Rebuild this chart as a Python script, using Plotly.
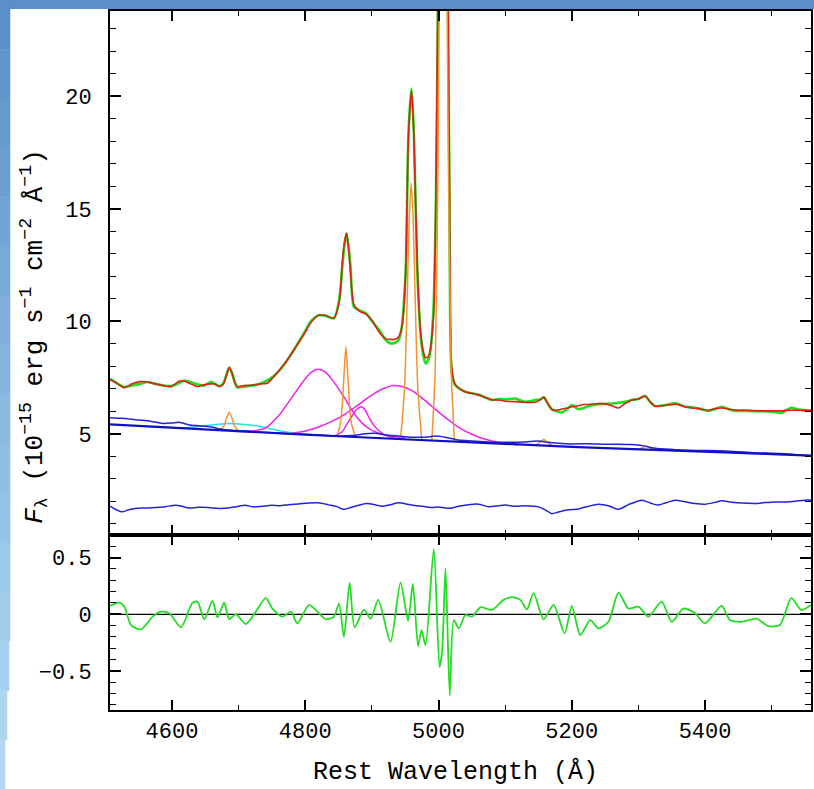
import plotly.graph_objects as go

# ---------------- data ----------------
wl_spec = [4507, 4515, 4528, 4540, 4552, 4563, 4575, 4587, 4599, 4610, 4618, 4628, 4638, 4648, 4659, 4665,
           4671, 4677, 4682, 4686, 4690, 4694, 4698, 4708, 4720, 4733, 4743, 4753, 4768, 4783, 4798, 4808,
           4815, 4821, 4830, 4843, 4851, 4856, 4859, 4862, 4865, 4868, 4873, 4881, 4891, 4901, 4911, 4921,
           4928, 4935, 4940, 4945, 4948, 4951, 4955, 4959.5, 4963, 4968, 4973, 4977, 4980.5, 4985, 4988,
           4991, 4993, 4996, 4999, 5003, 5007, 5011, 5014, 5016.5, 5020, 5025, 5032, 5040, 5050, 5060, 5070,
           5080, 5090, 5100, 5115, 5130, 5145, 5152, 5158, 5164, 5170, 5178, 5185, 5193, 5200, 5210, 5218,
           5225, 5240, 5250, 5260, 5270, 5280, 5290, 5300, 5310, 5318, 5325, 5340, 5357, 5370, 5380, 5390,
           5405, 5415, 5425, 5440, 5450, 5460, 5480, 5500, 5515, 5522, 5530, 5540, 5550, 5559]

flux_obs = [7.45, 7.30, 7.09, 7.15, 7.22, 7.30, 7.22, 7.15, 7.12, 7.25, 7.36, 7.30, 7.20, 7.14, 7.31, 7.20,
            7.12, 7.25, 7.65, 7.95, 7.70, 7.30, 7.07, 7.09, 7.15, 7.24, 7.38, 7.57, 8.06, 8.72, 9.47, 9.98,
            10.18, 10.28, 10.25, 10.13, 10.95, 12.58, 13.40, 13.92, 13.30, 12.43, 10.65, 10.50, 10.36, 9.98, 9.61, 9.17,
            9.02, 9.05, 9.17, 9.76, 10.80, 12.43, 18.40, 20.35, 18.40, 12.40, 9.47, 8.50, 8.13, 8.30, 8.72,
            9.80, 10.95, 15.0, 23.5, 38.0, 45.0, 38.0, 25.0, 15.4, 7.69, 7.17, 7.00, 6.87, 6.80, 6.75, 6.62,
            6.50, 6.55, 6.53, 6.57, 6.42, 6.50, 6.52, 6.62, 6.35, 6.09, 6.00, 5.95, 6.10, 6.28, 6.09, 6.15,
            6.23, 6.32, 6.33, 6.35, 6.38, 6.42, 6.50, 6.55, 6.68, 6.40, 6.23, 6.28, 6.35, 6.20, 6.18, 6.13,
            6.02, 6.10, 6.20, 6.05, 6.02, 6.02, 6.01, 5.98, 5.93, 6.05, 6.16, 6.08, 6.05, 6.03]

flux_model = [7.40, 7.28, 7.05, 7.22, 7.32, 7.30, 7.22, 7.14, 7.10, 7.33, 7.35, 7.22, 7.10, 7.18, 7.22, 7.22,
              7.10, 7.20, 7.62, 7.95, 7.72, 7.32, 7.10, 7.15, 7.16, 7.22, 7.25, 7.55, 8.08, 8.74, 9.42, 9.92,
              10.16, 10.27, 10.27, 10.15, 10.88, 12.75, 13.55, 13.92, 13.25, 12.15, 10.75, 10.45, 10.32, 10.00, 9.52, 9.22,
              9.20, 9.20, 9.30, 9.75, 10.60, 12.50, 18.30, 20.25, 18.30, 12.60, 9.55, 8.70, 8.38, 8.45, 8.80,
              9.60, 10.50, 15.5, 24.5, 39.0, 46.0, 38.0, 25.5, 16.0, 7.90, 7.20, 7.00, 6.87, 6.80, 6.72, 6.62,
              6.52, 6.50, 6.45, 6.43, 6.40, 6.40, 6.50, 6.62, 6.35, 6.08, 6.05, 6.10, 6.15, 6.20, 6.25, 6.30,
              6.30, 6.35, 6.33, 6.25, 6.15, 6.35, 6.50, 6.55, 6.68, 6.42, 6.23, 6.26, 6.32, 6.20, 6.15, 6.12,
              6.05, 6.12, 6.15, 6.08, 6.05, 6.05, 6.02, 6.02, 6.02, 6.04, 6.05, 6.05, 6.04, 6.03]

wl_pl = [4507, 4550, 4600, 4650, 4700, 4750, 4800, 4850, 4900, 4950, 5000, 5050, 5100, 5150, 5200, 5250,
         5300, 5350, 5400, 5450, 5500, 5559]
flux_pl = [5.42, 5.35, 5.26, 5.18, 5.10, 5.03, 4.96, 4.89, 4.82, 4.75, 4.67, 4.61, 4.54, 4.48, 4.42, 4.36,
           4.30, 4.25, 4.20, 4.15, 4.10, 4.03]

wl_plfe = [4507, 4520, 4530, 4545, 4563, 4575, 4588, 4600, 4611, 4626, 4640, 4648, 4660, 4668, 4688, 4708,
           4730, 4760, 4790, 4820, 4850, 4870, 4890, 4905, 4920, 4940, 4960, 4980, 4995, 5010, 5030, 5050,
           5075, 5100, 5130, 5150, 5160, 5180, 5200, 5225, 5250, 5270, 5290, 5305, 5320, 5340, 5375, 5400,
           5425, 5450, 5475, 5500, 5525, 5545, 5559]
flux_plfe = [5.71, 5.69, 5.68, 5.63, 5.58, 5.52, 5.46, 5.48, 5.51, 5.39, 5.36, 5.34, 5.30, 5.24, 5.16, 5.13,
             5.08, 5.03, 4.98, 4.95, 4.90, 4.92, 5.00, 5.02, 4.95, 4.90, 4.85, 4.85, 4.90, 4.85, 4.72, 4.68,
             4.64, 4.62, 4.64, 4.68, 4.64, 4.58, 4.55, 4.56, 4.54, 4.54, 4.52, 4.48, 4.38, 4.32, 4.27, 4.26,
             4.25, 4.20, 4.15, 4.14, 4.10, 4.05, 4.02]

wl_fe = [4507, 4518, 4525, 4535, 4545, 4560, 4575, 4590, 4605, 4615, 4625, 4640, 4655, 4670, 4685, 4697,
         4710, 4722, 4735, 4750, 4762, 4775, 4790, 4805, 4820, 4835, 4848, 4857, 4868, 4880, 4892, 4905,
         4915, 4928, 4940, 4955, 4968, 4980, 4990, 5000, 5010, 5020, 5030, 5045, 5060, 5075, 5090, 5100,
         5115, 5130, 5150, 5160, 5170, 5180, 5195, 5210, 5225, 5240, 5255, 5270, 5285, 5305, 5318, 5328,
         5340, 5355, 5370, 5385, 5400, 5415, 5425, 5440, 5455, 5475, 5490, 5505, 5520, 5535, 5550, 5559]
flux_fe = [1.78, 1.60, 1.53, 1.62, 1.68, 1.70, 1.72, 1.76, 1.82, 1.78, 1.70, 1.73, 1.72, 1.68, 1.70, 1.76,
           1.82, 1.75, 1.78, 1.82, 1.80, 1.85, 1.88, 1.92, 1.93, 1.84, 1.76, 1.64, 1.72, 1.82, 1.90, 1.84,
           1.78, 1.85, 1.93, 1.86, 1.80, 1.76, 1.72, 1.75, 1.70, 1.70, 1.78, 1.85, 1.87, 1.76, 1.80, 1.83,
           1.78, 1.80, 1.75, 1.62, 1.45, 1.52, 1.62, 1.66, 1.78, 1.87, 1.80, 1.64, 1.85, 2.05, 1.92, 1.83,
           1.92, 2.05, 1.98, 1.90, 1.87, 1.95, 2.02, 1.96, 1.92, 1.90, 1.94, 1.97, 1.97, 2.00, 2.05, 2.05]

wl_heii_b = [4560, 4590, 4620, 4650, 4670, 4686, 4700, 4720, 4740, 4760, 4780, 4800]
flux_heii_b = [5.33, 5.29, 5.27, 5.36, 5.43, 5.46, 5.44, 5.38, 5.28, 5.15, 5.05, 4.98]

wl_hb_b1 = [4700, 4720, 4740, 4760, 4780, 4800, 4810, 4820, 4830, 4840, 4850, 4860, 4870, 4880, 4890,
            4900, 4920, 4950]
flux_hb_b1 = [5.10, 5.12, 5.25, 5.80, 6.62, 7.45, 7.75, 7.87, 7.75, 7.42, 7.00, 6.55, 6.05, 5.65, 5.35,
              5.15, 4.95, 4.82]

wl_hb_b2 = [4845, 4855, 4862, 4870, 4877, 4884, 4890, 4897, 4905, 4913, 4925, 4935]
flux_hb_b2 = [4.93, 5.08, 5.40, 5.78, 6.08, 6.20, 6.05, 5.65, 5.30, 5.08, 4.88, 4.82]

wl_hb_b3 = [4780, 4800, 4820, 4840, 4860, 4880, 4900, 4915, 4930, 4945, 4960, 4975, 4990, 5005, 5020,
            5035, 5050, 5065, 5080, 5100, 5120]
flux_hb_b3 = [5.02, 5.12, 5.30, 5.55, 5.88, 6.30, 6.72, 6.98, 7.14, 7.10, 6.92, 6.60, 6.22, 5.85, 5.50,
              5.20, 4.98, 4.80, 4.68, 4.57, 4.50]

wl_n_heii = [4672, 4678, 4682, 4686, 4690, 4694, 4700]
flux_n_heii = [5.15, 5.35, 5.70, 5.95, 5.70, 5.35, 5.13]

wl_n_hb = [4848, 4853, 4856, 4858.5, 4861, 4863.5, 4866, 4869, 4875]
flux_n_hb = [4.93, 5.50, 6.50, 7.80, 8.87, 7.80, 6.50, 5.50, 4.90]

wl_n_o4959 = [4943, 4949, 4953, 4956, 4959, 4962, 4965, 4969, 4975]
flux_n_o4959 = [4.75, 7.00, 11.0, 14.5, 16.14, 14.5, 11.0, 7.00, 4.72]

wl_n_o5007 = [4990, 4995, 4999, 5003, 5007, 5011, 5015, 5019, 5024]
flux_n_o5007 = [4.70, 7.80, 16.4, 30.7, 39.0, 30.7, 16.4, 7.80, 4.65]

wl_n_5159 = [5146, 5152, 5158, 5164, 5170]
flux_n_5159 = [4.50, 4.62, 4.75, 4.62, 4.48]

wl_n_5309 = [5300, 5306, 5312, 5318, 5324]
flux_n_5309 = [4.30, 4.38, 4.45, 4.37, 4.27]

wl_resid = [4507, 4521, 4528.5, 4538.6, 4553.6, 4571, 4583.5, 4596, 4613.5, 4630.9, 4638.3, 4648.4, 4660.8,
            4668.3, 4678.3, 4685.8, 4695.9, 4710.9, 4725.8, 4740.8, 4750.7, 4765.7, 4778.3, 4788.1, 4805.7,
            4820.6, 4830.7, 4843.1, 4850.6, 4858.1, 4866.6, 4874.1, 4888.1, 4898.1, 4909.5, 4928, 4943,
            4954.4, 4961.5, 4969.4, 4974.5, 4980.5, 4992.9, 5001.5, 5005.4, 5010.5, 5016.9, 5022.9, 5030.4,
            5040.4, 5050.3, 5062.9, 5080.3, 5097.8, 5110.2, 5122.8, 5132.7, 5142.7, 5157.7, 5172.7, 5189.2,
            5200.1, 5212.7, 5227.7, 5240.1, 5255.1, 5270, 5285, 5300, 5315, 5334.9, 5349.9, 5367.4, 5384.9,
            5399.9, 5424.8, 5437.4, 5454.8, 5477.2, 5494.8, 5512.3, 5529.6, 5544.6, 5559]
resid = [0.074, 0.103, 0.068, -0.095, -0.133, -0.021, 0.023, 0.009, -0.115, 0.103, 0.112, -0.044, 0.118,
         -0.027, 0.103, -0.044, 0.0, -0.086, 0.023, 0.142, 0.05, -0.021, 0.023, -0.08, 0.083,
         0.009, -0.044, -0.021, 0.094, -0.2, 0.28, -0.115, 0.041, -0.039, 0.127, -0.243, 0.28,
         -0.057, 0.269, -0.282, -0.139, -0.273, 0.577, -0.465, -0.332, 0.408, -0.717, -0.051, -0.124,
         -0.006, -0.021, 0.062, 0.038, 0.127, 0.151, 0.127, 0.044, 0.186, -0.044, 0.083, -0.169,
         0.074, -0.184, -0.051, -0.124, -0.066, 0.192, 0.05, 0.068, -0.021, 0.112, -0.066, 0.05, 0.009,
         -0.08, 0.074, -0.051, -0.066, -0.039, -0.104, -0.095, 0.142, 0.038, 0.083]

x_range = [4507, 5559]
y_range_top = [0.5, 23.8]
y_range_bot = [-0.845, 0.70]
x_tickvals = [4600, 4800, 5000, 5200, 5400]
y_tickvals_top = [5, 10, 15, 20]
y_tickvals_bot = [-0.5, 0, 0.5]
y_ticktext_bot = ["\u22120.5", "0", "0.5"]

# ---------------- styles ----------------
GREEN = "#22dd22"
RED = "#dd2211"
ORANGE = "#f59330"
MAGENTA = "#ee22ee"
CYAN = "#22e0ee"
BLUE = "#2222e0"
NAVY = "#1010c0"
FONT = "Liberation Mono"

fig = go.Figure()

def add(x, y, color, width, xa="x", ya="y", shape="spline"):
    fig.add_trace(go.Scatter(x=x, y=y, mode="lines",
                             line=dict(color=color, width=width, shape=shape, smoothing=0.7),
                             xaxis=xa, yaxis=ya, showlegend=False, hoverinfo="skip"))

add(wl_spec, flux_obs, GREEN, 2.6)
add(wl_spec, flux_model, RED, 1.6)
add(wl_heii_b, flux_heii_b, CYAN, 1.5)
add(wl_hb_b1, flux_hb_b1, MAGENTA, 1.5)
add(wl_hb_b2, flux_hb_b2, MAGENTA, 1.5)
add(wl_hb_b3, flux_hb_b3, MAGENTA, 1.5)
for wx, fy in [(wl_n_heii, flux_n_heii), (wl_n_hb, flux_n_hb), (wl_n_o4959, flux_n_o4959),
               (wl_n_o5007, flux_n_o5007), (wl_n_5159, flux_n_5159), (wl_n_5309, flux_n_5309)]:
    add(wx, fy, ORANGE, 1.5)
add(wl_fe, flux_fe, BLUE, 1.5)
add(wl_plfe, flux_plfe, BLUE, 1.5)
add(wl_pl, flux_pl, NAVY, 2.2, shape="linear")
add(wl_resid, resid, GREEN, 1.8, "x2", "y2")

split = 175 / 699
axis_common = dict(showline=True, linecolor="black", linewidth=2, mirror="allticks",
                   ticks="inside", tickcolor="black", tickwidth=1.6, showgrid=False, zeroline=False,
                   tickfont=dict(family=FONT, size=22, color="black"))

fig.update_layout(
    width=814, height=789,
    margin=dict(l=110, r=1, t=11, b=79),
    paper_bgcolor="white", plot_bgcolor="white",
    xaxis=dict(domain=[0, 1], anchor="y", range=x_range, tickvals=x_tickvals, ticklen=10,
               showticklabels=False,
               minor=dict(dtick=100, tick0=4500, ticklen=5, ticks="inside", tickcolor="black", tickwidth=1.4),
               **axis_common),
    yaxis=dict(domain=[split, 1], anchor="x", range=y_range_top, tickvals=y_tickvals_top, ticklen=11,
               ticklabelstandoff=12,
               minor=dict(dtick=1, tick0=0, ticklen=6, ticks="inside", tickcolor="black", tickwidth=1.4),
               **axis_common),
    xaxis2=dict(domain=[0, 1], anchor="y2", range=x_range, tickvals=x_tickvals, ticklen=10,
                showticklabels=True, matches="x",
                minor=dict(dtick=100, tick0=4500, ticklen=5, ticks="inside", tickcolor="black", tickwidth=1.4),
                **axis_common),
    yaxis2=dict(domain=[0, split], anchor="x2", range=y_range_bot, tickvals=y_tickvals_bot,
                ticktext=y_ticktext_bot, ticklen=11, ticklabelstandoff=12,
                minor=dict(dtick=0.1, tick0=0, ticklen=6, ticks="inside", tickcolor="black", tickwidth=1.4),
                **axis_common),
)

# zero line of residual panel
fig.add_shape(type="line", xref="x2 domain", x0=0, x1=1, yref="y2", y0=0, y1=0,
              line=dict(color="black", width=1.2), layer="below")

# axis titles
fig.add_annotation(text="Rest Wavelength (Å)", xref="paper", yref="paper", x=0.4922, y=-0.0887,
                   xanchor="center", yanchor="middle", showarrow=False,
                   font=dict(family=FONT, size=25, color="black"))
fig.add_annotation(text="<i>F</i><sub>λ</sub> (10<sup>−15</sup> erg s<sup>−1</sup> cm<sup>−2</sup> Å<sup>−1</sup>)",
                   xref="paper", yref="paper", x=-0.1095, y=0.5343, textangle=-90,
                   xanchor="center", yanchor="middle", showarrow=False,
                   font=dict(family=FONT, size=26, color="black"))

# slide background border (blue stripes)
fig.add_shape(type="rect", xref="paper", yref="paper", x0=-0.2, x1=1.2, y0=(710 - 9) / 699, y1=1.05,
              fillcolor="#5b8fc9", line=dict(width=0), layer="above")
stripe_cols = ["#5b8fc9", "#6096cd", "#669bd0", "#6ca0d3", "#72a5d6", "#78aad9", "#7eafdc", "#84b4df",
               "#8ab9e2", "#90bee5", "#96c3e8", "#9cc8ea", "#a2ccec", "#a8d0ee", "#aed4f0", "#b4d8f2"]
stripe_w = [10, 10, 10, 10, 10, 10, 10, 10, 10, 10, 10, 10, 10, 9, 7, 5]
seg = 789 / len(stripe_cols)
for i, (c, w) in enumerate(zip(stripe_cols, stripe_w)):
    top_px = i * seg
    bot_px = (i + 1) * seg + 0.5
    fig.add_shape(type="rect", xref="paper", yref="paper",
                  x0=-0.2, x1=(w - 110) / 703,
                  y0=(710 - bot_px) / 699, y1=(710 - top_px) / 699,
                  fillcolor=c, line=dict(width=0), layer="above")

fig.write_html("out.html")
